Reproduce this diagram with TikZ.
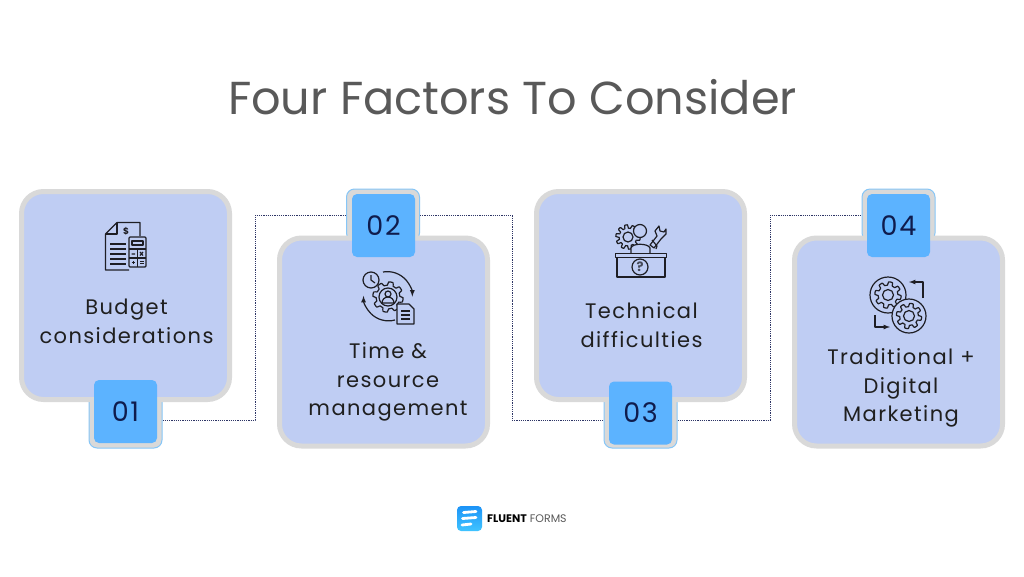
\documentclass[tikz,border=0pt]{standalone}
\usepackage{fontspec}
\usepackage{xcolor}
\setmainfont{Poppins}
\newfontfamily\headfont{Poppins}
\newfontfamily\labelfont[LetterSpace=6.7]{Poppins}
\newfontfamily\numfont[LetterSpace=6]{Poppins}
\definecolor{cardfill}{HTML}{BFCDF3}
\definecolor{cardedge}{HTML}{D9D9D9}
\definecolor{badgefill}{HTML}{5CB3FF}
\definecolor{backedge}{HTML}{86C6F7}
\definecolor{navy}{HTML}{0F1C4D}
\definecolor{linknavy}{HTML}{2E3566}
\definecolor{inkgrey}{HTML}{595959}
\definecolor{icon}{HTML}{1E1E24}
\definecolor{logotop}{HTML}{1C93F7}
\definecolor{logolow}{HTML}{40C4FF}
\def\gear#1#2#3#4{\draw[ico] plot[smooth,samples=145,domain=0:360] ({#1+(#3+1.7*max(-1,min(1,2.5*sin(#4*\x))))*cos(\x)},{#2+(#3+1.7*max(-1,min(1,2.5*sin(#4*\x))))*sin(\x)}) -- cycle;}

\begin{document}
\begin{tikzpicture}[x=1pt,y=-1pt,
card/.style={draw=cardedge,fill=cardfill,line width=5pt,rounded corners=22pt,minimum width=208pt,minimum height=208pt,inner sep=0pt},
back/.style={draw=backedge,fill=cardedge,line width=1pt,rounded corners=8pt,minimum width=73pt,inner sep=0pt},
badge/.style={fill=badgefill,rounded corners=5pt,minimum width=63pt,minimum height=63pt,inner sep=0pt,text=navy,font=\numfont\fontsize{27}{27}\selectfont},
words/.style={align=center,text=black!88,inner sep=0pt,font=\labelfont\fontsize{21}{28.7}\selectfont},
link/.style={draw=linknavy,line width=1pt,dash pattern=on 1.2pt off 1pt},
ico/.style={draw=icon,line width=1.2pt,line join=round},
]
\useasboundingbox (0,0) rectangle (1024,576);
\fill[white] (0,0) rectangle (1024,576);

\node[text=inkgrey,inner sep=0pt,font=\headfont\fontsize{46.2}{47}\selectfont] (title) at (512.5,97) {Four Factors To Consider};

\node[back,minimum height=56pt] (back1) at (125.5,420) {};
\node[back,minimum height=52pt] (back2) at (383,215) {};
\node[back,minimum height=56pt] (back3) at (640.5,420) {};
\node[back,minimum height=52pt] (back4) at (898.5,215) {};

\node[card] (card1) at (125.5,295.5) {};
\node[card] (card2) at (383.5,342) {};
\node[card] (card3) at (640.5,295.5) {};
\node[card] (card4) at (898.5,342) {};

\node[badge] (badge1) at (125.5,411.5) {01};
\node[badge] (badge2) at (383.5,225.5) {02};
\node[badge] (badge3) at (640.5,413) {03};
\node[badge] (badge4) at (898.5,225.5) {04};

\node[words] (text1) at (126.5,321) {Budget \\ considerations};
\node[words] (text2) at (388,382) {Time \& \\ resource \\ management};
\node[words] (text3) at (641.5,325) {Technical \\ difficulties};
\node[words] (text4) at (901,388) {Traditional + \\ Digital \\ Marketing};

\coordinate (turn1) at (255,300);
\coordinate (turn2) at (512,300);
\coordinate (turn3) at (770,300);
\draw[link] (back1.east) -| (turn1) |- (back2.west);
\draw[link] (back2.east) -| (turn2) |- (back3.west);
\draw[link] (back3.east) -| (turn3) |- (back4.west);

% budget
\draw[ico] (140,236) -- (140,222.5) -- (117,222.5) -- (105.5,234) -- (105.5,270) -- (129,270);
\draw[ico] (117,222.5) -- (117,234) -- (105.5,234);
\draw[ico,rounded corners=1pt] (129,237) rectangle (146,267);
\draw[ico] (132,241) rectangle (143,245);
\draw[ico] (129,249) -- (146,249) (137.5,249) -- (137.5,267) (129,258) -- (146,258);
\draw[ico] (131.5,254) -- (135,254) (140,252) -- (143,255.5) (143,252) -- (140,255.5);
\draw[ico] (131.5,262.5) -- (135,262.5) (133.2,261) -- (133.2,264) (140,261.5) -- (143.5,261.5) (140,263.5) -- (143.5,263.5);
\foreach \y in {244,249,254,259,264} \draw[ico] (110,\y) -- (126,\y);
\node[text=icon,inner sep=0pt,font=\fontsize{9}{9}\selectfont\bfseries] (dollar) at (126,231) {\$};

% time and resource
\gear{388}{297}{13.5}{8}
\draw[ico] (388,297) circle (9);
\draw[ico] (388,294) circle (3);
\draw[ico] (382,303) arc[start angle=180,end angle=360,radius=6] -- cycle;
\draw[ico,fill=cardfill] (371,280) circle (8);
\draw[ico] (371,275) -- (371,280) -- (375,283);
\draw[ico,-latex] (383,272) arc[start angle=-100,end angle=0,radius=25];
\draw[ico,-latex] (395,320) arc[start angle=75,end angle=180,radius=25];
\draw[ico,fill=cardfill] (397,304) -- (409,304) -- (414,309) -- (414,324) -- (397,324) -- cycle;
\foreach \y in {311,315,319} \draw[ico] (401,\y) -- (410,\y);

% technical
\begin{scope}[icon!75!cardfill]
\gear{628}{237}{10.5}{10}
\draw[ico] (628,237) circle (5);
\draw[ico,fill=cardfill] (640,231) circle (6.5);
\draw[ico,fill=cardfill] (631,253) -- (631,248) .. controls (632,243) and (648,243) .. (650,248) -- (650,253);
\draw[ico,fill=cardfill] (650,245) -- (657,236) -- (655,231) -- (659,226) -- (660,231) -- (664,232) -- (666,229) -- (666,234) -- (661,239) -- (654,248) -- cycle;
\draw[ico] (652,240) -- (657,246) -- (656,249);
\draw[ico] (615.5,253.5) rectangle (666.5,257.5);
\draw[ico] (617,257.5) rectangle (665,277);
\draw[ico] (640,267) circle (8);
\node[text=icon!75!cardfill,inner sep=0pt,font=\fontsize{13}{13}\selectfont\bfseries] (quest) at (640,267) {?};
\end{scope}

% traditional and digital
\draw[ico] (888,295) circle (18);
\gear{888}{295}{11.5}{8}
\draw[ico] (888,295) circle (5.5);
\draw[ico,fill=cardfill] (909,316) circle (17);
\gear{909}{316}{11}{8}
\draw[ico] (909,316) circle (5.5);
\draw[ico,-latex] (923,298) -- (923,282) -- (909,282);
\draw[ico,-latex] (875,315) -- (875,327) -- (890,327);

% logo
\node[top color=logotop,bottom color=logolow,rounded corners=4pt,minimum width=25pt,minimum height=25pt,inner sep=0pt] (logo) at (469.5,518.5) {};
\draw[white,line width=2.8pt,line cap=round] (463.5,512.5) -- (476,511.5) (462.5,518.5) -- (476,517.5) (462,525) -- (471,524);
\node[anchor=west,inner sep=0pt,font=\fontsize{11}{11}\selectfont] (brand) at (487,518.5) {{\bfseries FLUENT} \textcolor{inkgrey}{FORMS}};
\end{tikzpicture}
\end{document}
